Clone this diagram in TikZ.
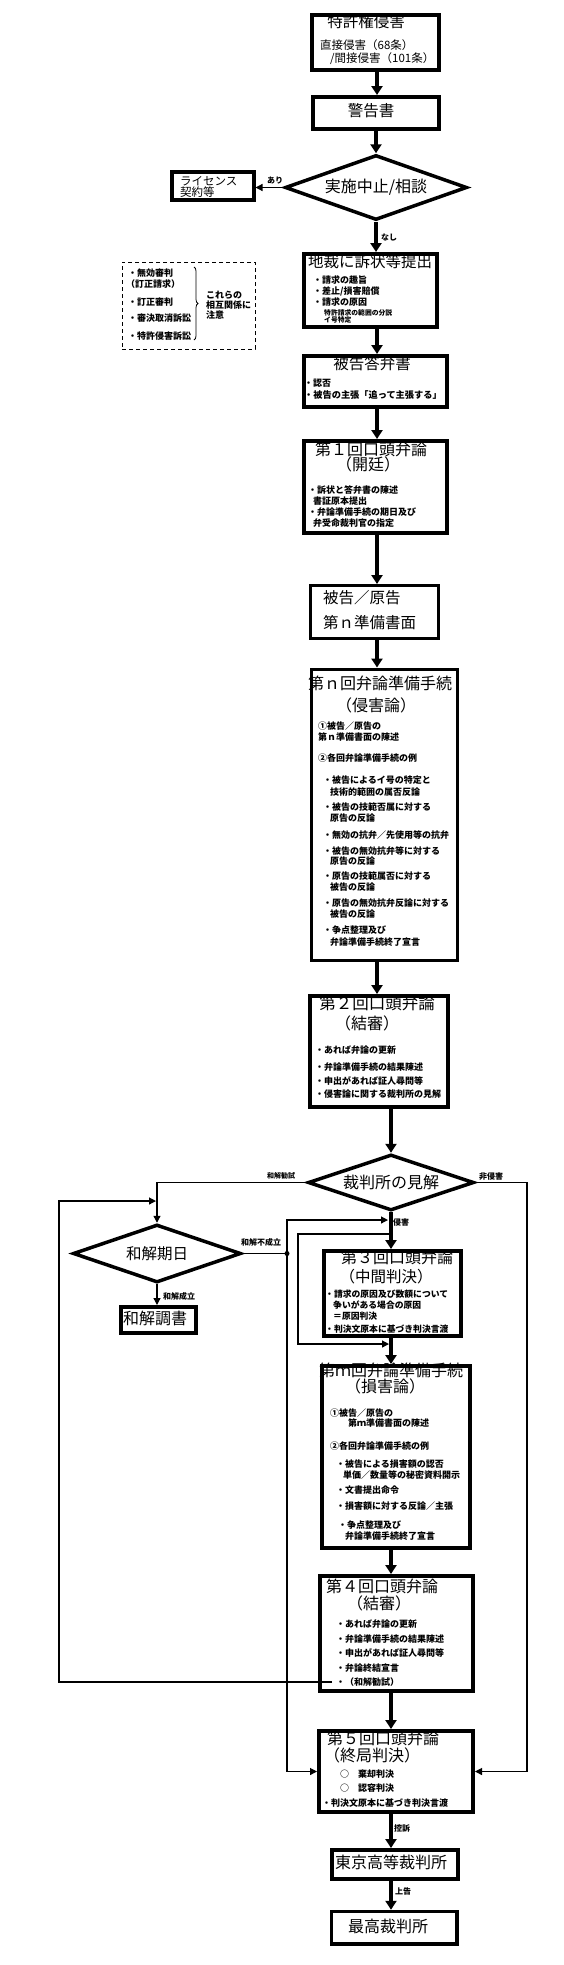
\documentclass[tikz,border=0pt]{standalone}
\usepackage{fontspec}
\setmainfont{Noto Sans CJK JP}
\usetikzlibrary{shapes.geometric,arrows.meta,decorations.pathreplacing}
\tikzset{
  bx/.style={draw, line width=#1, inner sep=0pt, anchor=north west},
  bx/.default=4pt,
  dia/.style={draw, diamond, line width=3.5pt, inner sep=0pt, shape aspect=2.8, font=\fontsize{16}{16}\selectfont},
  ttl/.style={inner sep=0pt, font=\fontsize{15.5}{15.5}\selectfont},
  ttlb/.style={inner sep=0pt, font=\fontsize{16}{16}\selectfont},
  sub/.style={inner sep=0pt, anchor=west, font=\fontsize{11.5}{11.5}\selectfont},
  lic/.style={inner sep=0pt, anchor=west, align=left, font=\fontsize{11.5}{11}\selectfont},
  body/.style={inner sep=0pt, anchor=west, font=\bfseries\fontsize{9}{9}\selectfont},
  tinyt/.style={inner sep=0pt, anchor=west, font=\bfseries\fontsize{6.8}{6.8}\selectfont},
  lbl/.style={inner sep=0pt, font=\bfseries\fontsize{8}{8}\selectfont},
  tarr/.style={line width=3.5pt, -{Triangle[length=9pt,width=11pt]}},
  narr/.style={line width=1.2pt, -{Triangle[length=7pt,width=7pt]}},
  nline/.style={line width=1.2pt},
}
\begin{document}
\begin{tikzpicture}[x=1pt,y=-1pt]
\useasboundingbox (0,0) rectangle (564,1965);
\fill[white] (0,0) rectangle (564,1965);

% ---------- boxes ----------
\node[bx, minimum width=127pt, minimum height=55pt] (A) at (310,13) {};
\node[bx, minimum width=126pt, minimum height=32pt] (B) at (311,95) {};
\node[dia, minimum width=182pt, minimum height=65pt] (C) at (376,187.5) {実施中止/相談};
\node[bx=3.5pt, minimum width=82pt, minimum height=28pt] (D) at (170,170) {};
\node[bx, minimum width=133pt, minimum height=73pt] (E) at (302,252) {};
\node[draw, dash pattern=on 4pt off 3pt, line width=1pt, inner sep=0pt, anchor=north west, minimum width=133pt, minimum height=87pt] (F) at (121.5,261.5) {};
\node[bx, minimum width=143pt, minimum height=51pt] (G) at (302,354) {};
\node[bx, minimum width=143pt, minimum height=92pt] (H) at (302,439) {};
\node[bx=2.5pt, minimum width=128pt, minimum height=53pt] (I) at (309,584) {};
\node[bx=3pt, minimum width=146pt, minimum height=291pt] (J) at (309.5,667.5) {};
\node[bx, minimum width=138pt, minimum height=111pt] (K) at (308,994) {};
\node[dia, minimum width=166pt, minimum height=56pt] (L) at (391,1182.5) {裁判所の見解};
\node[dia, minimum width=168pt, minimum height=58pt, font=\fontsize{15.5}{15.5}\selectfont] (M) at (157,1253.5) {和解期日};
\node[bx, minimum width=75pt, minimum height=26pt] (N) at (119,1305) {};
\node[bx, minimum width=137pt, minimum height=85pt] (O) at (322,1249) {};
\node[bx, minimum width=148pt, minimum height=182pt] (P) at (320,1364) {};
\node[bx, minimum width=153pt, minimum height=115pt] (Q) at (318,1574) {};
\node[bx, minimum width=154pt, minimum height=81pt] (R) at (317,1729) {};
\node[bx, minimum width=126pt, minimum height=29pt] (S) at (330,1848) {};
\node[bx=3.5pt, minimum width=125.5pt, minimum height=32.5pt] (T) at (329.75,1909.75) {};

% ---------- texts ----------
\node[ttl] (a1) at (366,22) {特許権侵害};
\node[sub] (a2) at (320,45) {直接侵害（68条）};
\node[sub] (a3) at (330,59) {/間接侵害（101条）};

\node[ttl] (b1) at (371,111) {警告書};

\node[lic] (d1) at (180,186.5) {ライセンス\\契約等};

\node[ttl] (e1) at (370,262) {地裁に訴状等提出};
\node[body] (e2) at (313,280) {・請求の趣旨};
\node[body] (e3) at (313,291) {・差止/損害賠償};
\node[body] (e4) at (313,302) {・請求の原因};
\node[tinyt] (e5) at (324,313) {特許請求の範囲の分説};
\node[tinyt] (e6) at (324,320) {イ号特定};

\node[body] (f1) at (128,273) {・無効審判};
\node[body] (f2) at (126,284) {（訂正請求）};
\node[body] (f3) at (128,302) {・訂正審判};
\node[body] (f4) at (128,318) {・審決取消訴訟};
\node[body] (f5) at (128,336) {・特許侵害訴訟};
\node[body] (f6) at (206,295) {これらの};
\node[body] (f7) at (206,305) {相互関係に};
\node[body] (f8) at (206,315) {注意};
\coordinate (br1) at (194,267);
\coordinate (br2) at (194,340);
\draw[decorate, decoration={brace, amplitude=4pt}, line width=0.8pt] (br1) -- (br2);

\node[ttl] (g1) at (372,364) {被告答弁書};
\node[body] (g2) at (304,383) {・認否};
\node[body, font=\bfseries\fontsize{9.2}{9.2}\selectfont] (g3) at (304,395) {・被告の主張「追って主張する」};

\node[ttlb] (h1) at (371,449) {第１回口頭弁論};
\node[ttlb] (h2) at (368,464) {（開廷）};
\node[body] (h3) at (308,490) {・訴状と答弁書の陳述};
\node[body] (h4) at (313,501) {書証原本提出};
\node[body] (h5) at (308,512) {・弁論準備手続の期日及び};
\node[body] (h6) at (313,523) {弁受命裁判官の指定};

\node[ttl, anchor=west] (i1) at (323,598) {被告／原告};
\node[ttl, anchor=west] (i2) at (323,623) {第ｎ準備書面};

\node[ttlb] (j1) at (380,683) {第ｎ回弁論準備手続};
\node[ttlb] (j2) at (376,705) {（侵害論）};
\node[body] (j3) at (318,726) {①被告／原告の};
\node[body] (j4) at (318,737) {第ｎ準備書面の陳述};
\node[body] (j5) at (318,758) {②各回弁論準備手続の例};
\node[body] (j6) at (323,780) {・被告によるイ号の特定と};
\node[body] (j7) at (330,792) {技術的範囲の属否反論};
\node[body] (j8) at (323,807) {・被告の技範否属に対する};
\node[body] (j9) at (330,818) {原告の反論};
\node[body] (j10) at (323,835) {・無効の抗弁／先使用等の抗弁};
\node[body] (j11) at (323,851) {・被告の無効抗弁等に対する};
\node[body] (j12) at (330,861) {原告の反論};
\node[body] (j13) at (323,876) {・原告の技範属否に対する};
\node[body] (j14) at (330,887) {被告の反論};
\node[body] (j15) at (323,903) {・原告の無効抗弁反論に対する};
\node[body] (j16) at (330,914) {被告の反論};
\node[body] (j17) at (323,930) {・争点整理及び};
\node[body] (j18) at (330,942) {弁論準備手続終了宣言};

\node[ttlb, font=\fontsize{16.5}{16.5}\selectfont] (k1) at (377,1003) {第２回口頭弁論};
\node[ttlb] (k2) at (367,1023) {（結審）};
\node[body] (k3) at (315,1050) {・あれば弁論の更新};
\node[body] (k4) at (315,1067) {・弁論準備手続の結果陳述};
\node[body] (k5) at (315,1081) {・申出があれば証人尋問等};
\node[body] (k6) at (315,1094) {・侵害論に関する裁判所の見解};

\node[ttlb] (n1) at (155,1318) {和解調書};

\node[ttlb] (o1) at (397,1257) {第３回口頭弁論};
\node[ttl] (o2) at (386,1277) {（中間判決）};
\node[body, font=\bfseries\fontsize{8.8}{8.8}\selectfont] (o3) at (325,1294) {・請求の原因及び数額について};
\node[body, font=\bfseries\fontsize{8.8}{8.8}\selectfont] (o4) at (333,1305) {争いがある場合の原因};
\node[body, font=\bfseries\fontsize{8.8}{8.8}\selectfont] (o5) at (333,1316) {＝原因判決};
\node[body, font=\bfseries\fontsize{8.8}{8.8}\selectfont] (o6) at (325,1329) {・判決文原本に基づき判決言渡};

\node[ttlb] (p1) at (391,1370) {第ｍ回弁論準備手続};
\node[ttlb] (p2) at (385,1386) {（損害論）};
\node[body] (p3) at (330,1413) {①被告／原告の};
\node[body] (p4) at (348,1423) {第ｍ準備書面の陳述};
\node[body] (p5) at (330,1446) {②各回弁論準備手続の例};
\node[body] (p6) at (336,1464) {・被告による損害額の認否};
\node[body] (p7) at (343,1475) {単価／数量等の秘密資料開示};
\node[body] (p8) at (336,1490) {・文書提出命令};
\node[body] (p9) at (336,1506) {・損害額に対する反論／主張};
\node[body] (p10) at (338,1525) {・争点整理及び};
\node[body] (p11) at (345,1536) {弁論準備手続終了宣言};

\node[ttlb] (q1t) at (382,1586) {第４回口頭弁論};
\node[ttlb] (q2t) at (379,1603) {（結審）};
\node[body] (q3) at (336,1624) {・あれば弁論の更新};
\node[body] (q4) at (336,1639) {・弁論準備手続の結果陳述};
\node[body] (q5) at (336,1653) {・申出があれば証人尋問等};
\node[body] (q6) at (336,1668) {・弁論終結宣言};
\node[body] (q7) at (336,1682) {・（和解勧試）};

\node[ttlb] (r1) at (383,1738) {第５回口頭弁論};
\node[ttlb] (r2) at (372,1755) {（終局判決）};
\node[body] (r3) at (340,1774) {○　棄却判決};
\node[body] (r4) at (340,1788) {○　認容判決};
\node[body] (r5) at (322,1803) {・判決文原本に基づき判決言渡};

\node[ttlb] (s1) at (391,1862) {東京高等裁判所};
\node[ttlb] (t1) at (388,1926) {最高裁判所};

% ---------- labels ----------
\node[lbl] (l1) at (275,181) {あり};
\node[lbl] (l2) at (389,237) {なし};
\node[lbl, font=\bfseries\fontsize{7}{7}\selectfont] (l3) at (281,1176) {和解勧試};
\node[lbl] (l4) at (491,1176) {非侵害};
\node[lbl] (l5) at (401,1222) {侵害};
\node[lbl] (l6) at (261,1242) {和解不成立};
\node[lbl] (l7) at (179,1296) {和解成立};
\node[lbl] (l8) at (402,1828) {控訴};
\node[lbl] (l9) at (403,1891) {上告};

% ---------- coordinates ----------
\coordinate (mx) at (377,0);
\coordinate (rx) at (527,0);
\coordinate (j) at (287,1253.5);
\coordinate (k) at (388,1220);
\coordinate (b1) at (391,1234);
\coordinate (b2) at (389,1344);
\coordinate (bx) at (298,0);
\coordinate (qs) at (332,1682);
\coordinate (lx) at (59,0);
\coordinate (m1) at (156,1201);

% ---------- thick connectors ----------
\draw[tarr] (A.south -| mx) -- (B.north -| mx);
\draw[tarr] (B.south -| C.north) -- (C.north);
\draw[tarr] (C.south) -- (E.north -| C.south);
\draw[tarr] (E.south -| mx) -- (G.north -| mx);
\draw[tarr] (G.south -| mx) -- (H.north -| mx);
\draw[tarr] (H.south -| mx) -- (I.north -| mx);
\draw[tarr] (I.south -| mx) -- (J.north -| mx);
\draw[tarr] (J.south -| mx) -- (K.north -| mx);
\draw[tarr] (K.south -| L.north) -- (L.north);
\draw[tarr] (L.south) -- (O.north -| L.south);
\draw[tarr] (O.south -| L.south) -- (P.north -| L.south);
\draw[tarr] (P.south -| L.south) -- (Q.north -| L.south);
\draw[tarr] (Q.south -| L.south) -- (R.north -| L.south);
\draw[tarr] (R.south -| L.south) -- (S.north -| L.south);
\draw[tarr] (S.south -| L.south) -- (T.north -| L.south);

% ---------- thin connectors ----------
\draw[narr] (C.west) -- (C.west -| D.east);
\draw[narr] (L.west) -| (M.north);
\draw[narr] (L.east) -- (L.east -| rx) |- (R.east);
\draw[nline] (M.east) -- (j);
\fill (j) circle (2.5);
\draw[narr] (j) |- (k);
\draw[narr] (j) |- (R.west);
\draw[narr] (M.south) -- (M.south |- N.north);
\draw[narr] (b1) -| (bx |- b2) -- (b2);
\draw[narr] (qs) -| (lx |- m1) -- (m1);
\end{tikzpicture}
\end{document}
